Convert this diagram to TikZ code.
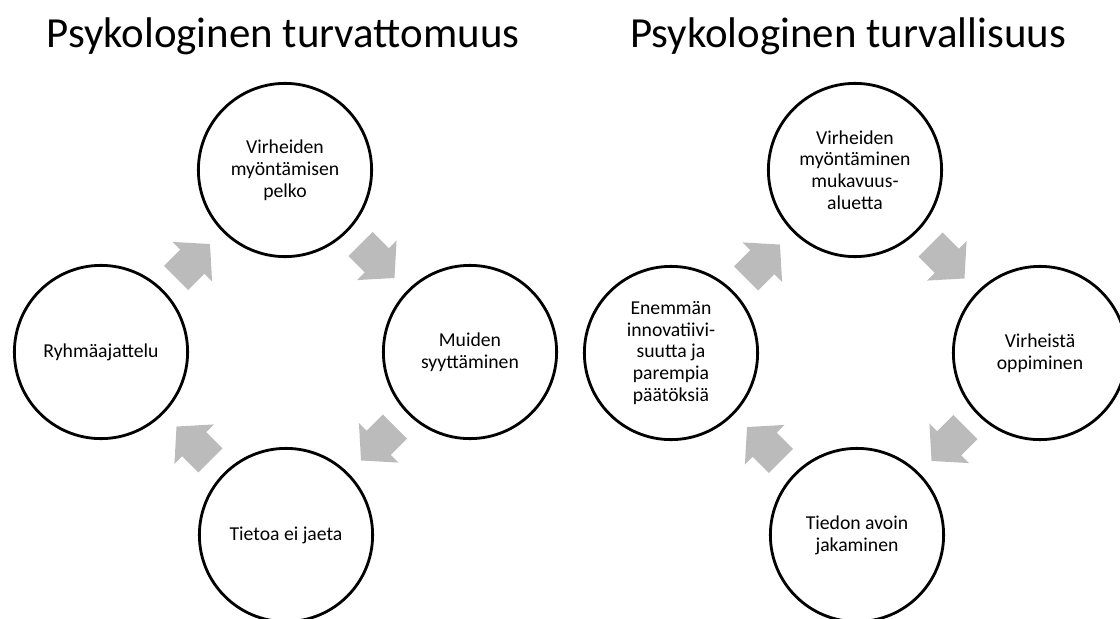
\documentclass[tikz,border=0pt]{standalone}
\usepackage{fontspec}
\setmainfont{Carlito}
\usepackage{tikz}
\usetikzlibrary{calc}
\definecolor{arrowgray}{RGB}{187,187,187}
\tikzset{phase/.style = {circle, draw=black, line width=2pt, minimum size=4.33cm, inner sep=0pt, align=center, font=\fontsize{14}{15.5}\selectfont}}
\tikzset{heading/.style = {anchor=base, font=\fontsize{30.5}{33}\selectfont}}
\newcommand{\cyclearrow}[3]{
   \begin{scope}[shift={($(#1)!.5!(#2)$)}, rotate=#3]
      \fill[arrowgray] (-24,-17) -- (-1,-17) -- (-1,-28) -- (24,0) -- (-1,28) -- (-1,17) -- (-24,17) -- cycle;
   \end{scope}
}

\begin{document}
\begin{tikzpicture}[x=0.025cm, y=0.025cm]
		% Frame
		\useasboundingbox (0,0) rectangle (1120,-619);

		% Titles
		\node[heading] (titleleft) at (283,-47) {Psykologinen turvattomuus};
		\node[heading] (titleright) at (848,-47) {Psykologinen turvallisuus};

		% Circles
		%%left
		\node[phase] (pelko) at (285,-170) {Virheiden\\myöntämisen\\pelko};
		\node[phase] (syytt) at (470,-352) {Muiden\\syyttäminen};
		\node[phase] (tieto) at (286,-535) {Tietoa ei jaeta};
		\node[phase] (ryhma) at (101,-352) {Ryhmäajattelu};
		%%right
		\node[phase] (mukavuus) at (855,-170) {Virheiden\\myöntäminen\\mukavuus-\\aluetta};
		\node[phase] (oppiminen) at (1040,-353) {Virheistä\\oppiminen};
		\node[phase] (jakaminen) at (857,-535) {Tiedon avoin\\jakaminen};
		\node[phase] (innovaatio) at (671,-353) {Enemmän\\innovatiivi-\\suutta ja\\parempia\\päätöksiä};

		% Arrows
		%%left
		\cyclearrow{ryhma}{pelko}{45}
		\cyclearrow{pelko}{syytt}{-45}
		\cyclearrow{syytt}{tieto}{-135}
		\cyclearrow{tieto}{ryhma}{135}
		%%right
		\cyclearrow{innovaatio}{mukavuus}{45}
		\cyclearrow{mukavuus}{oppiminen}{-45}
		\cyclearrow{oppiminen}{jakaminen}{-135}
		\cyclearrow{jakaminen}{innovaatio}{135}
	\end{tikzpicture}
\end{document}
